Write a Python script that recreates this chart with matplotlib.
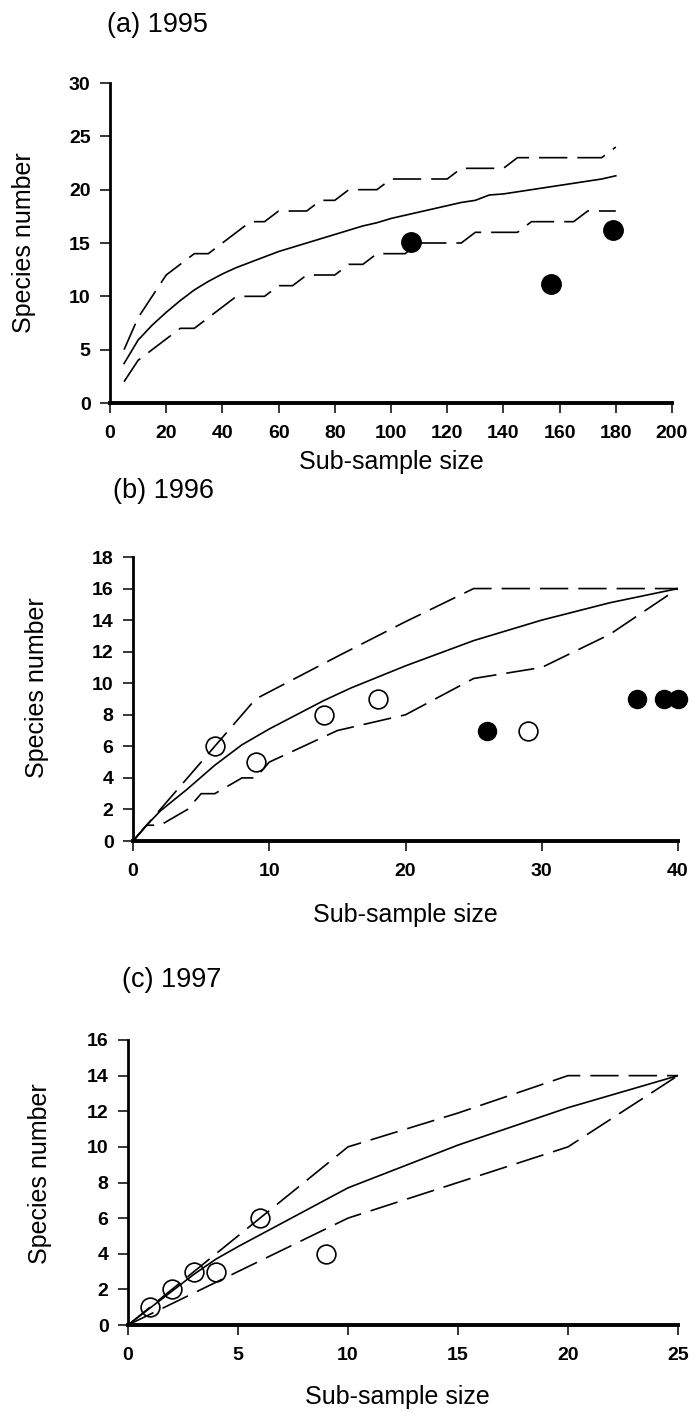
import matplotlib
matplotlib.use("Agg")
import matplotlib.pyplot as plt

plt.rcParams["font.family"] = ["Liberation Sans", "DejaVu Sans"]

# (a) 1995
a_x = [5, 10, 15, 20, 25, 30, 35, 40, 45, 50, 55, 60, 65, 70, 75, 80, 85, 90,
       95, 100, 105, 110, 115, 120, 125, 130, 135, 140, 145, 150, 155, 160,
       165, 170, 175, 180]
a_mean = [3.7, 5.9, 7.3, 8.5, 9.6, 10.6, 11.4, 12.1, 12.7, 13.2, 13.7, 14.2,
          14.6, 15.0, 15.4, 15.8, 16.2, 16.6, 16.9, 17.3, 17.6, 17.9, 18.2,
          18.5, 18.8, 19.0, 19.5, 19.6, 19.8, 20.0, 20.2, 20.4, 20.6, 20.8,
          21.0, 21.3]
a_upper = [5, 8, 10, 12, 13, 14, 14, 15, 16, 17, 17, 18, 18, 18, 19, 19, 20,
           20, 20, 21, 21, 21, 21, 21, 22, 22, 22, 22, 23, 23, 23, 23, 23, 23,
           23, 24]
a_lower = [2, 4, 5, 6, 7, 7, 8, 9, 10, 10, 10, 11, 11, 12, 12, 12, 13, 13, 14,
           14, 14, 15, 15, 15, 15, 16, 16, 16, 16, 17, 17, 17, 17, 18, 18, 18]
a_filled_x = [107, 157, 179]
a_filled_y = [15.1, 11.2, 16.2]

# (b) 1996
b_mean_x = [0, 1, 2, 4, 6, 8, 10, 12, 14, 16, 18, 20, 25, 30, 35, 40]
b_mean = [0, 1.0, 1.9, 3.3, 4.8, 6.1, 7.1, 8.0, 8.9, 9.7, 10.4, 11.1, 12.7,
          14.0, 15.1, 16.0]
b_upper_x = [0, 5, 9, 15, 20, 25, 30, 35, 40]
b_upper = [0, 5, 9, 11.7, 13.9, 16, 16, 16, 16]
b_lower_x = [0, 1, 2, 4, 5, 6, 8, 9, 10, 15, 20, 25, 30, 35, 40]
b_lower = [0, 1, 1, 2, 3, 3, 4, 4, 5, 7, 8, 10.3, 11, 13.1, 16]
b_open_x = [6, 9, 14, 18, 29]
b_open_y = [6, 5, 8, 9, 7]
b_filled_x = [26, 37, 39, 40]
b_filled_y = [7, 9, 9, 9]

# (c) 1997
c_mean_x = [0, 1, 2, 3, 4, 5, 10, 15, 20, 25]
c_mean = [0, 0.95, 1.9, 2.85, 3.7, 4.4, 7.7, 10.1, 12.2, 14]
c_upper_x = [0, 10, 15, 20, 25]
c_upper = [0, 10, 11.9, 14, 14]
c_lower_x = [0, 1, 2, 3, 4, 5, 10, 15, 20, 25]
c_lower = [0, 0.6, 1.2, 1.8, 2.4, 3, 6, 8, 10, 14]
c_open_x = [1, 2, 3, 4, 6, 9]
c_open_y = [1, 2, 3, 3, 6, 4]

W, H = 693, 1412
fig = plt.figure(figsize=(W / 100, H / 100), dpi=100)


def make_axes(left, right, top, bottom):
    return fig.add_axes([left / W, 1 - bottom / H, (right - left) / W, (bottom - top) / H])


def style(ax, xmax, xstep, ymax, ystep, xl, yl):
    ax.set_xlim(0, xmax)
    ax.set_ylim(0, ymax)
    ax.set_xticks(range(0, xmax + 1, xstep))
    ax.set_yticks(range(0, ymax + 1, ystep))
    for s in ["top", "right"]:
        ax.spines[s].set_visible(False)
    ax.spines["bottom"].set_linewidth(2.8)
    ax.spines["left"].set_linewidth(2.0)
    ax.tick_params(direction="out", length=7, width=1.1, labelsize=14)
    ax.tick_params(axis="x", pad=9)
    ax.tick_params(axis="y", pad=7)
    for t in ax.get_xticklabels() + ax.get_yticklabels():
        t.set_fontweight("bold")
    ax.set_xlabel("Sub-sample size", fontsize=18, va="center")
    ax.set_ylabel("Species number", fontsize=18, va="center")
    ax.xaxis.set_label_coords(*xl)
    ax.yaxis.set_label_coords(*yl)


dash = (17, 6)
lw = 1.2

# panel a
ax = make_axes(110, 672, 83, 403)
ax.plot(a_x, a_mean, color="black", lw=lw)
ax.plot(a_x, a_upper, color="black", lw=lw, dashes=dash)
ax.plot(a_x, a_lower, color="black", lw=lw, dashes=dash)
ax.plot(a_filled_x, a_filled_y, "o", color="black", ms=14, clip_on=False)
style(ax, 200, 20, 30, 5, (0.5, -0.184), (-0.153, 0.5))
fig.text(107 / W, 1 - 25 / H, "(a) 1995", fontsize=19.5, ha="left", va="center")

# panel b
ax = make_axes(133, 678, 557, 841)
ax.plot(b_mean_x, b_mean, color="black", lw=lw)
ax.plot(b_upper_x, b_upper, color="black", lw=lw, dashes=dash)
ax.plot(b_lower_x, b_lower, color="black", lw=lw, dashes=dash)
ax.plot(b_open_x, b_open_y, "o", mfc="none", mec="black", mew=1.2, ms=13.5, clip_on=False)
ax.plot(b_filled_x, b_filled_y, "o", color="black", ms=13, clip_on=False)
style(ax, 40, 10, 18, 2, (0.5, -0.261), (-0.176, 0.54))
fig.text(113 / W, 1 - 491 / H, "(b) 1996", fontsize=19.5, ha="left", va="center")

# panel c
ax = make_axes(128, 678, 1040, 1325)
ax.plot(c_mean_x, c_mean, color="black", lw=lw)
ax.plot(c_upper_x, c_upper, color="black", lw=lw, dashes=dash)
ax.plot(c_lower_x, c_lower, color="black", lw=lw, dashes=dash)
ax.plot(c_open_x, c_open_y, "o", mfc="none", mec="black", mew=1.2, ms=13.5, clip_on=False)
style(ax, 25, 5, 16, 2, (0.49, -0.253), (-0.16, 0.53))
fig.text(122 / W, 1 - 980 / H, "(c) 1997", fontsize=19.5, ha="left", va="center")

fig.savefig("out.png", dpi=100)
